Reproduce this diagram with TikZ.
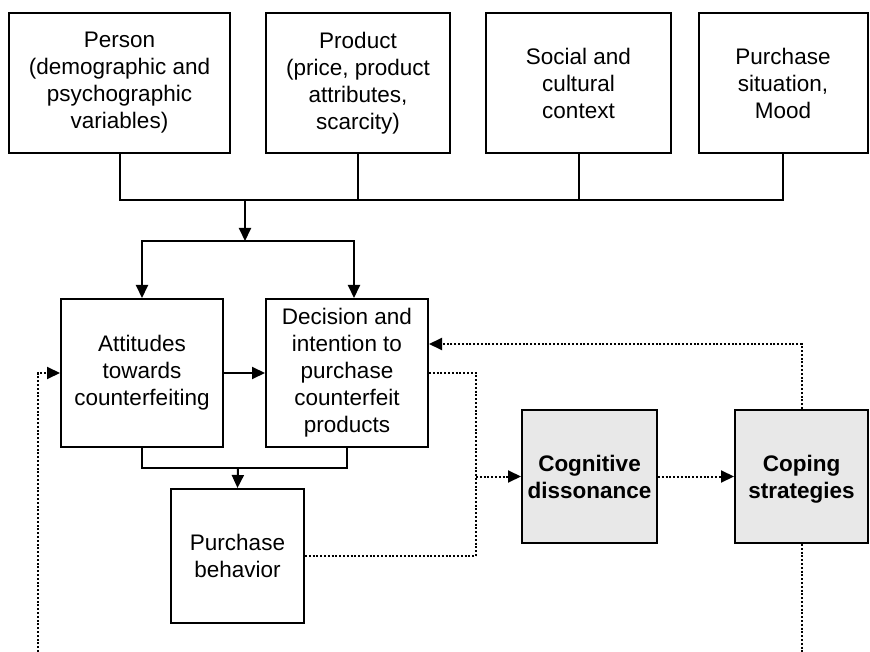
\documentclass[tikz,border=0pt]{standalone}
\usepackage{fontspec}
\setmainfont{Liberation Sans}
\usepackage{tikz}
\usetikzlibrary{arrows.meta, calc}
\definecolor{boxgray}{HTML}{E8E8E8}

\begin{document}
\begin{tikzpicture}[x=1pt, y=-1pt,
    factor/.style={draw, line width=2pt, align=center, inner sep=2pt,
        font=\fontsize{22.5}{27}\selectfont},
    shadedbox/.style={factor, fill=boxgray, text depth=0pt,
        font=\fontsize{22.5}{27}\selectfont\bfseries},
    link/.style={line width=2pt},
    arr/.style={link, -{Triangle[length=13pt, width=12pt]}},
    dotline/.style={line width=2pt, dash pattern=on 2pt off 1.8pt},
    dotarr/.style={dotline, -{Triangle[length=13pt, width=12pt]}}]
    \useasboundingbox (0,0) rectangle (870,652);
    \node[factor, minimum width=221pt, minimum height=140pt] (person) at (119.5,83) {Person\\(demographic and\\psychographic\\variables)};
    \node[factor, minimum width=184pt, minimum height=140pt] (product) at (358,83) {Product\\(price, product\\attributes,\\scarcity)};
    \node[factor, minimum width=185pt, minimum height=140pt] (social) at (578.5,83) {Social and\\cultural\\context};
    \node[factor, minimum width=169pt, minimum height=140pt] (situation) at (783,83) {Purchase\\situation,\\Mood};
    \node[factor, minimum width=162pt, minimum height=148pt] (attitudes) at (142,373) {Attitudes\\towards\\counterfeiting};
    \node[factor, minimum width=162pt, minimum height=148pt] (decision) at (347,373) {Decision and\\intention to\\purchase\\counterfeit\\products};
    \node[factor, minimum width=133pt, minimum height=134pt] (behavior) at (237.5,556) {Purchase\\behavior};
    \node[shadedbox, minimum width=135pt, minimum height=133pt] (dissonance) at (589.5,476.5) {Cognitive\\dissonance};
    \node[shadedbox, minimum width=133pt, minimum height=133pt] (coping) at (801.5,476.5) {Coping\\strategies};
    \coordinate (bus) at (245,200);
    \coordinate (split) at (245,241);
    \coordinate (merge) at (238,468);
    \coordinate (djoin) at (476,556);
    \coordinate (fbtop) at (802,344);
    \coordinate (loopend) at (38,652);
    \coordinate (pageend) at (0,652);
    \draw[link] (person.south) |- (bus);
    \draw[link] (product.south) |- (bus);
    \draw[link] (social.south) |- (bus);
    \draw[link] (situation.south) |- (bus);
    \draw[arr] (bus) -- (split);
    \draw[arr] (split) -| (attitudes.north);
    \draw[arr] (split) -| ([xshift=7pt]decision.north);
    \draw[arr] (attitudes) -- (decision);
    \draw[link] (attitudes.south) |- (merge) -| (decision.south);
    \draw[arr] (merge) -- (behavior.north);
    \draw[dotline] (decision.east) -| (djoin);
    \draw[dotline] (behavior.east) -- (djoin);
    \draw[dotarr] (djoin |- dissonance.west) -- (dissonance.west);
    \draw[dotarr] (dissonance) -- (coping);
    \draw[dotarr] (coping.north) |- (decision.east |- fbtop);
    \draw[dotline] (coping.south) -- (coping.south |- pageend);
    \draw[dotarr] (loopend) |- (attitudes.west);
\end{tikzpicture}
\end{document}
